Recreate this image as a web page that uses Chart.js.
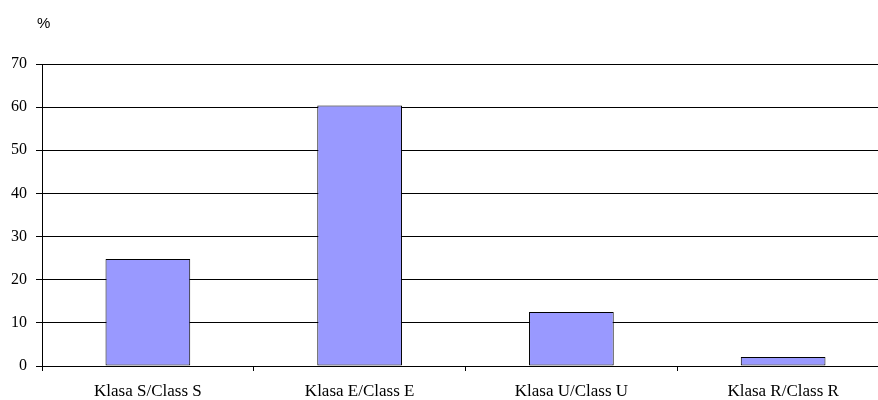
<!DOCTYPE html>
<html>
<head>
<meta charset="utf-8">
<script src="https://cdn.jsdelivr.net/npm/chart.js@4"></script>
<style>
  html, body { margin: 0; padding: 0; background: #fff; overflow: hidden; }
</style>
</head>
<body>
<!-- canvas a bit wider than the window: the original is cropped on the right -->
<canvas id="classChart" width="889" height="400"></canvas>
<script>
// ==============================
// DATA
// ==============================
const categories = ['Klasa S/Class S', 'Klasa E/Class E', 'Klasa U/Class U', 'Klasa R/Class R'];
const shares = [24.8, 60.4, 12.5, 2.1];
const yTicks = [0, 10, 20, 30, 40, 50, 60, 70];
const unitLabel = '%';

// small plugin for the "%" caption above the y axis
const unitCaption = {
    id: 'unitCaption',
    afterDraw(chart) {
        const ctx = chart.ctx;
        ctx.save();
        ctx.font = '15px "Liberation Sans", Arial, sans-serif';
        ctx.fillStyle = '#000';
        ctx.textAlign = 'left';
        ctx.textBaseline = 'middle';
        ctx.fillText(unitLabel, 37, 24);
        ctx.restore();
    }
};

const serif = '"Liberation Serif", "Times New Roman", serif';

const ctx = document.getElementById('classChart').getContext('2d');
new Chart(ctx, {
    type: 'bar',
    data: {
        labels: categories,
        datasets: [{
            data: shares,
            backgroundColor: '#9999FF',
            borderColor: '#000',
            borderWidth: 1,
            borderSkipped: false,
            categoryPercentage: 0.4,
            barPercentage: 1
        }]
    },
    options: {
        responsive: false,
        animation: false,
        layout: { padding: { top: 64, right: 0, left: 0, bottom: 0 } },
        plugins: {
            legend: { display: false },
            tooltip: { enabled: false }
        },
        scales: {
            x: {
                offset: true,
                afterFit(scale) { scale.height = 34; },
                grid: {
                    drawOnChartArea: false,
                    drawTicks: true,
                    tickLength: 5,
                    color: '#000'
                },
                border: { color: '#000', width: 1 },
                ticks: {
                    color: '#000',
                    padding: 10,
                    maxRotation: 0,
                    autoSkip: false,
                    font: { family: serif, size: 17 }
                }
            },
            y: {
                min: 0,
                max: 70,
                afterFit(scale) { scale.width = 42; },
                afterBuildTicks(scale) { scale.ticks = yTicks.map(v => ({ value: v })); },
                grid: {
                    color: '#000',
                    lineWidth: 1,
                    drawTicks: true,
                    tickLength: 6
                },
                border: { color: '#000', width: 1 },
                ticks: {
                    color: '#000',
                    padding: 9,
                    font: { family: serif, size: 16 }
                }
            }
        }
    },
    plugins: [unitCaption]
});
</script>
</body>
</html>
